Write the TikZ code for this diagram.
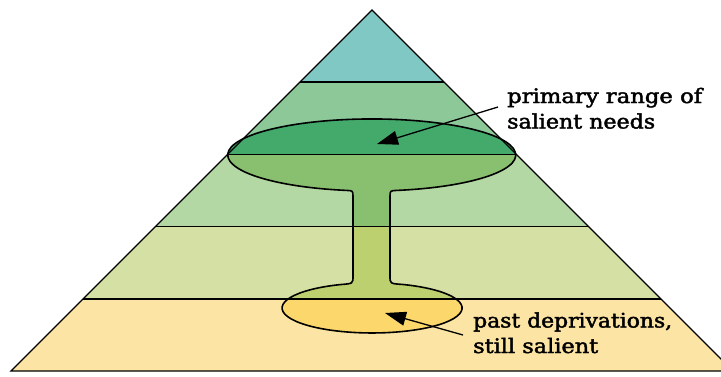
\documentclass[tikz,border=0pt]{standalone}
\usepackage{fontspec}
\usepackage{graphicx}
\setmainfont{DejaVu Serif}[FakeBold=2]
\usetikzlibrary{arrows.meta}
\definecolor{bandA}{HTML}{80C8C4}
\definecolor{bandB}{HTML}{8CC898}
\definecolor{bandC}{HTML}{B4D8A4}
\definecolor{bandD}{HTML}{D4E0A4}
\definecolor{bandE}{HTML}{FCE4A4}
\definecolor{stemB}{HTML}{44AA6C}
\definecolor{stemC}{HTML}{88C070}
\definecolor{stemD}{HTML}{BCD070}
\definecolor{stemE}{HTML}{FCD86C}
\newcommand\fitw[2]{\resizebox{#1}{\height}{#2}}
\def\stempath{(390,197) .. controls (390,190.7) .. (397,190.4)
 arc[start angle=79.9, end angle=-259.9, x radius=144, y radius=36]
 .. controls (353,190.7) .. (353,197)
 -- (353,276) .. controls (353,283.6) .. (341,284.5)
 arc[start angle=-110.2, end angle=-430.5, x radius=90, y radius=25]
 .. controls (390,283.6) .. (390,276) -- cycle}
\tikzset{
  edge line/.style={line width=1.4pt, black},
  level line/.style={line width=1.7pt, black},
  outline/.style={line width=1.6pt, black},
  pointer/.style={line width=1.3pt, black, -{Triangle[length=21pt,width=14pt]}},
  lbl/.style={align=left, inner sep=0pt, font=\fontsize{20}{25.5}\selectfont, anchor=base west}
}
\begin{document}
\begin{tikzpicture}[x=1pt,y=-1pt]
\useasboundingbox (0,0) rectangle (721,376);
\clip (0,0) rectangle (721,376);
% bands
\fill[bandA] (372,10) -- (444.2,82.2) -- (299.8,82.2) -- cycle;
\fill[bandB] (299.8,82.2) -- (444.2,82.2) -- (516.4,154.4) -- (227.6,154.4) -- cycle;
\fill[bandC] (227.6,154.4) -- (516.4,154.4) -- (588.6,226.6) -- (155.4,226.6) -- cycle;
\fill[bandD] (155.4,226.6) -- (588.6,226.6) -- (660.8,298.8) -- (83.2,298.8) -- cycle;
\fill[bandE] (83.2,298.8) -- (660.8,298.8) -- (733,371) -- (11,371) -- cycle;
% stem shape fills per band
\begin{scope}\clip (0,82.2) rectangle (721,154.4); \fill[stemB] \stempath; \end{scope}
\begin{scope}\clip (0,154.4) rectangle (721,226.6); \fill[stemC] \stempath; \end{scope}
\begin{scope}\clip (0,226.6) rectangle (721,298.8); \fill[stemD] \stempath; \end{scope}
\begin{scope}\clip (0,298.8) rectangle (721,371); \fill[stemE] \stempath; \end{scope}
\draw[outline] \stempath;
% level lines
\draw[level line] (299.8,82.2) -- (444.2,82.2);
\draw[level line] (227.6,154.4) -- (516.4,154.4);
\draw[level line] (155.4,226.6) -- (588.6,226.6);
\draw[level line] (83.2,298.8) -- (660.8,298.8);
% pyramid outline
\draw[edge line, line join=miter] (11,371) -- (372,10) -- (733,371) -- cycle;
% labels and pointers
\node[lbl] (uplabel) at (507,128.5) {\fitw{195pt}{primary range of}\\\fitw{148pt}{salient needs}};
\node[lbl] (lowlabel) at (473,353) {\fitw{199pt}{past deprivations,}\\\fitw{125pt}{still salient}};
\coordinate (upstart) at (498,107);
\coordinate (uptip) at (377,144);
\coordinate (lowstart) at (463,335);
\coordinate (lowtip) at (385,313);
\draw[pointer] (upstart) -- (uptip);
\draw[pointer] (lowstart) -- (lowtip);
\end{tikzpicture}
\end{document}
